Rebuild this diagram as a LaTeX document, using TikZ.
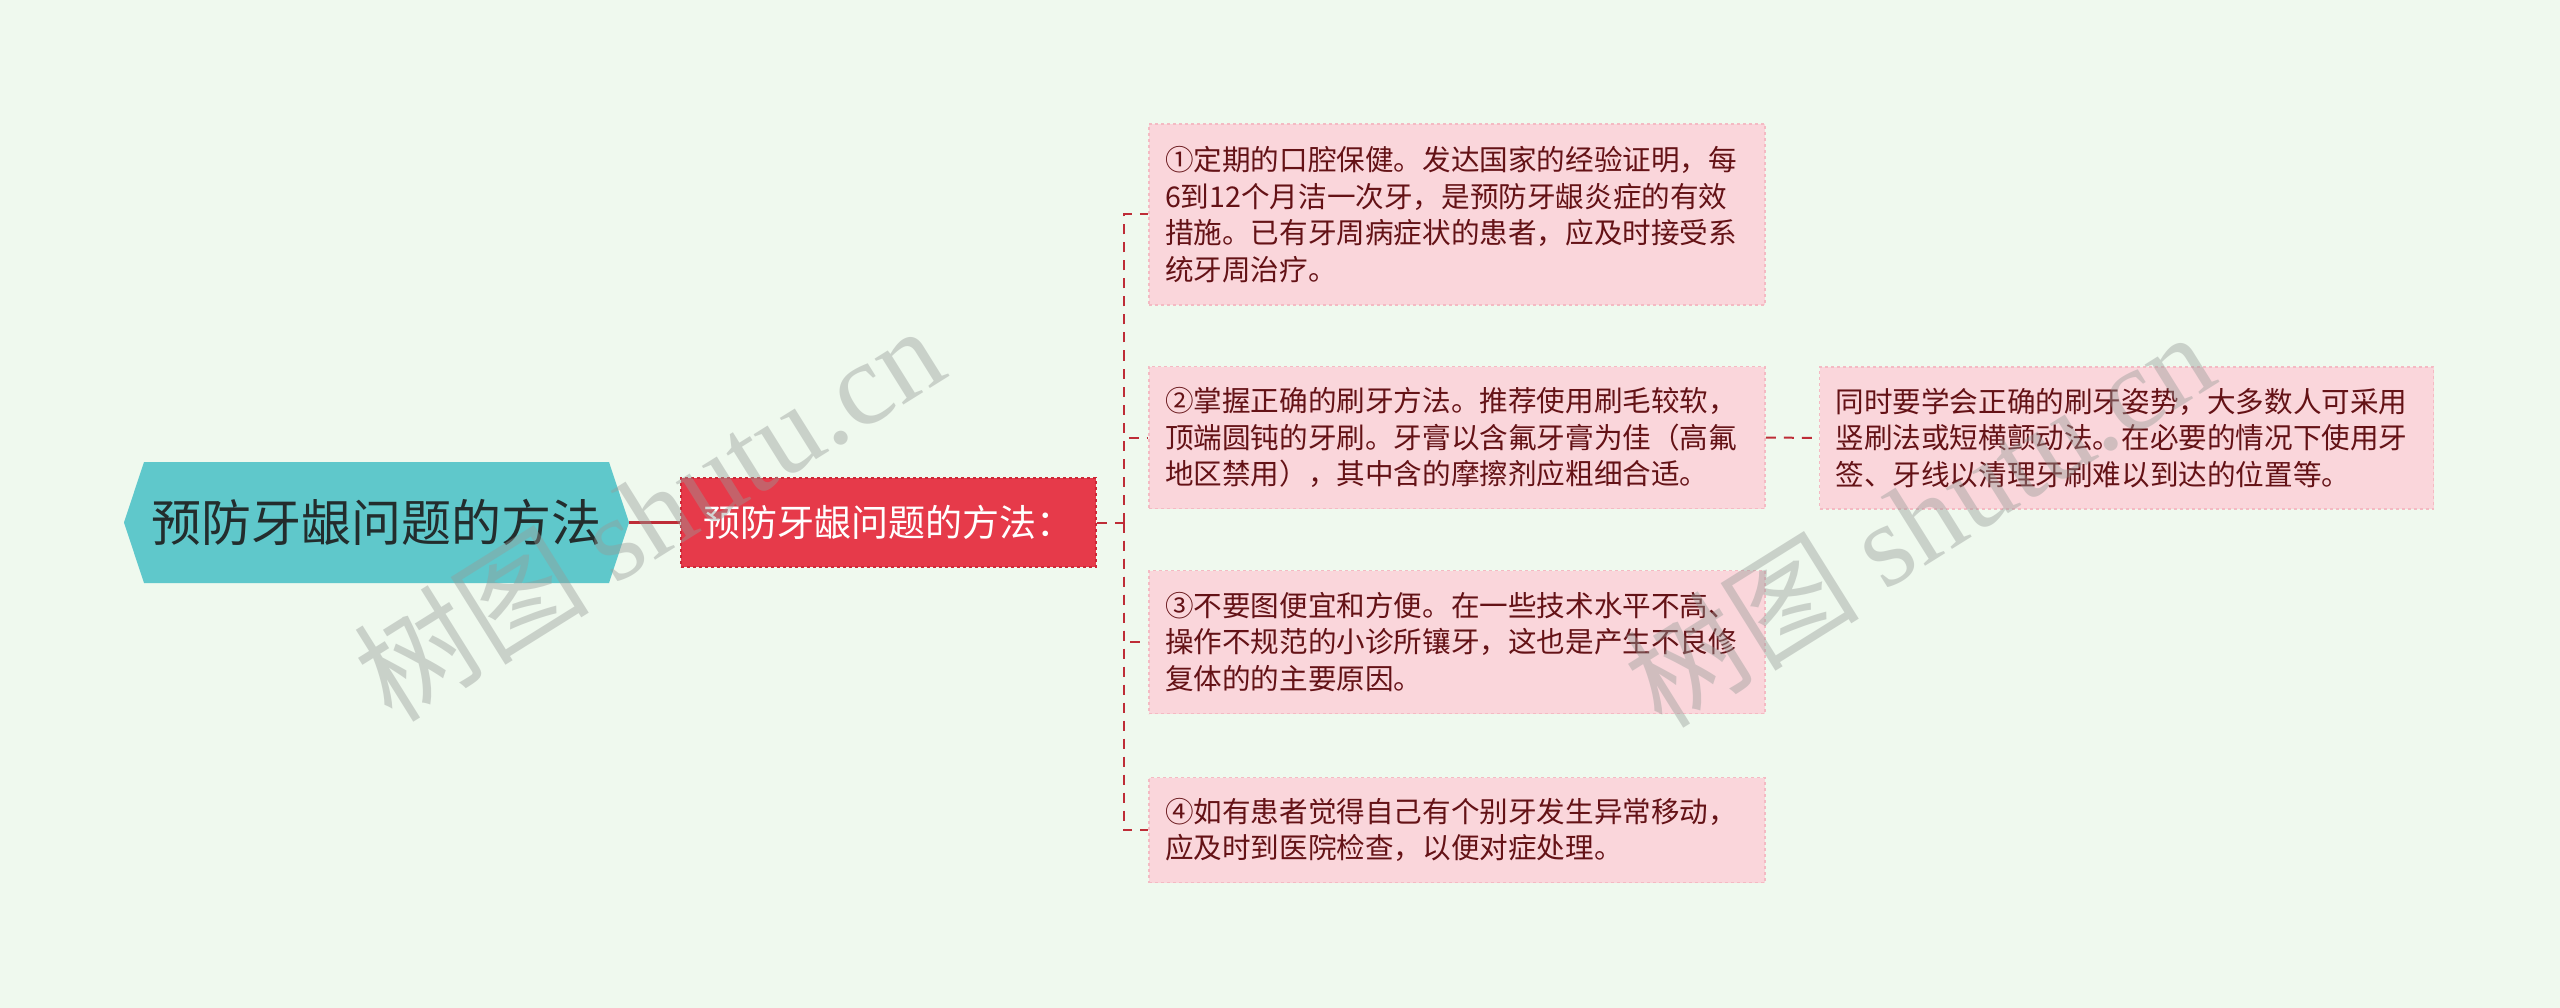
\documentclass[tikz,border=0pt]{standalone}
\usepackage{fontspec}
\setmainfont{Noto Sans CJK SC}
\newfontfamily\wmlatin{Liberation Serif}
\definecolor{bgc}{RGB}{239,249,238}
\definecolor{rootfill}{RGB}{95,200,203}
\definecolor{roottext}{RGB}{35,45,45}
\definecolor{subfill}{RGB}{230,58,74}
\definecolor{subborder}{RGB}{205,40,55}
\definecolor{linkred}{RGB}{190,45,55}
\definecolor{boxfill}{RGB}{250,214,219}
\definecolor{boxborder}{RGB}{244,186,195}
\definecolor{boxtext}{RGB}{100,18,22}
\definecolor{wmgray}{RGB}{150,155,152}
\begin{document}
\begin{tikzpicture}[x=1pt,y=1pt,
  rootnode/.style={minimum width=505pt,minimum height=121pt,inner sep=0pt,text=roottext,font=\fontsize{50}{58}\selectfont},
  subnode/.style={fill=subfill,draw=subborder,dashed,line width=1.5pt,minimum width=415pt,minimum height=89pt,inner sep=0pt,text=white,font=\fontsize{37}{44}\selectfont},
  leafbox/.style={fill=boxfill,draw=boxborder,dashed,line width=1.5pt,text width=584pt,inner xsep=16pt,inner ysep=0pt,align=left,text=boxtext,font=\fontsize{28.6}{36.6}\selectfont},
  solidlink/.style={draw=linkred,line width=2.5pt},
  dashlink/.style={draw=linkred,dashed,dash pattern=on 10pt off 8pt,line width=2pt},
  watermark/.style={text=wmgray,opacity=0.42,rotate=32,font=\fontsize{118}{120}\selectfont}
]
\fill[bgc] (0,0) rectangle (2560,-1008);
\useasboundingbox (0,0) rectangle (2560,-1008);

% root hexagon
\fill[rootfill] (124,-522.5) -- (144,-462) -- (609,-462) -- (629,-522.5) -- (609,-583) -- (144,-583) -- cycle;
\node[rootnode] (root) at (376.5,-522.5) {预防牙龈问题的方法};

\node[subnode] (sub) at (888.5,-522.5) {预防牙龈问题的方法：};

\node[leafbox,minimum height=181pt] (b1) at (1457,-214.5) {①定期的口腔保健。发达国家的经验证明，每\\6到12个月洁一次牙，是预防牙龈炎症的有效\\措施。已有牙周病症状的患者，应及时接受系\\统牙周治疗。};
\node[leafbox,minimum height=142pt] (b2) at (1457,-437.5) {②掌握正确的刷牙方法。推荐使用刷毛较软，\\顶端圆钝的牙刷。牙膏以含氟牙膏为佳（高氟\\地区禁用），其中含的摩擦剂应粗细合适。};
\node[leafbox,minimum height=143pt] (b3) at (1457,-642) {③不要图便宜和方便。在一些技术水平不高、\\操作不规范的小诊所镶牙，这也是产生不良修\\复体的的主要原因。};
\node[leafbox,minimum height=105pt] (b4) at (1457,-830) {④如有患者觉得自己有个别牙发生异常移动，\\应及时到医院检查，以便对症处理。};
\node[leafbox,text width=582pt,minimum height=142pt] (b5) at (2126.5,-438) {同时要学会正确的刷牙姿势，大多数人可采用\\竖刷法或短横颤动法。在必要的情况下使用牙\\签、牙线以清理牙刷难以到达的位置等。};

\draw[solidlink] (root.east) -- (sub.west);
\coordinate (trunk) at ([xshift=27pt]sub.east);
\draw[dashlink] (sub.east) -- (trunk);
\draw[dashlink] (trunk) |- (b1.west);
\draw[dashlink] (trunk) |- (b2.west);
\draw[dashlink] (trunk) |- (b3.west);
\draw[dashlink] (trunk) |- (b4.west);
\draw[dashlink] (b2.east) -- (b5.west);

% watermarks
\node[watermark] (wm1) at (648,-512) {树图 {\wmlatin shutu.cn}};
\node[watermark] (wm2) at (1918,-518) {树图 {\wmlatin shutu.cn}};
\end{tikzpicture}
\end{document}
